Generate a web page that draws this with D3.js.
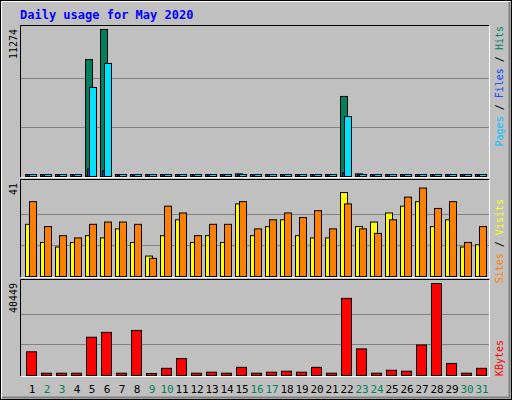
<!DOCTYPE html>
<html>
<head>
<meta charset="utf-8">
<script src="https://cdn.jsdelivr.net/npm/d3@7"></script>
<style>
  body { margin: 0; background: #fff; }
  text { font-family: "DejaVu Sans Mono", monospace; }
</style>
</head>
<body>
<div id="chart"></div>
<script>
// daily usage data, May 2020
const days = d3.range(1, 32);
const weekend = [2, 3, 9, 10, 16, 17, 23, 24, 30, 31];
const hits = [90, 80, 80, 80, 8970, 11274, 80, 80, 80, 80, 120, 80, 80, 80, 200, 80, 80, 80, 80, 80, 80, 6140, 200, 80, 150, 80, 150, 120, 100, 80, 80];
const files = [40, 40, 40, 40, 560, 450, 40, 40, 40, 40, 60, 40, 40, 40, 100, 40, 40, 40, 40, 40, 40, 300, 100, 40, 60, 40, 80, 90, 80, 40, 40];
const pages = [60, 60, 60, 60, 6830, 8670, 60, 60, 60, 60, 80, 60, 60, 60, 150, 60, 60, 60, 60, 60, 60, 4600, 120, 60, 80, 60, 100, 100, 90, 60, 60];
const visits = [23, 15, 13, 15, 18, 17, 21, 15, 9, 18, 25, 15, 18, 15, 32, 18, 22, 25, 18, 17, 17, 37, 22, 24, 28, 31, 33, 22, 25, 13, 14];
const sites = [33, 22, 18, 17, 23, 24, 24, 23, 8, 31, 28, 18, 23, 23, 33, 21, 25, 28, 26, 29, 21, 32, 21, 19, 25, 35, 39, 30, 33, 15, 22];
const kbytes = [10420, 1000, 1000, 1000, 16820, 18960, 1000, 19810, 600, 3160, 7430, 1000, 1450, 1000, 3590, 1000, 1450, 1880, 1450, 3590, 1000, 33900, 11700, 1000, 2300, 1880, 13400, 40449, 5290, 1000, 3160];

const svg = d3.select("#chart").append("svg")
    .attr("width", 512)
    .attr("height", 400);

// frame
svg.append("rect").attr("x", 0.5).attr("y", 0.5).attr("width", 511).attr("height", 399)
    .attr("fill", "#c0c0c0").attr("stroke", "#000");
svg.append("path").attr("d", "M1.5,398.5V1.5H510.5").attr("fill", "none").attr("stroke", "#fff").attr("stroke-width", 1);
svg.append("path").attr("d", "M2,397.5H509.5V2").attr("fill", "none").attr("stroke", "#808080").attr("stroke-width", 2);

svg.append("text").attr("x", 20).attr("y", 19)
    .attr("fill", "#0000ff").attr("font-size", 12).attr("font-weight", "bold")
    .text("Daily usage for May 2020");

// one 15px slot per day, bars start at the left of the slot
const x = d3.scaleBand().domain(days).range([25, 490]).paddingInner(0);

function panel(top, bottom, max, label) {
    const y = d3.scaleLinear().domain([0, max]).range([bottom, top + 4]);
    svg.append("rect").attr("x", 20.5).attr("y", top + 0.5).attr("width", 469).attr("height", bottom - top)
        .attr("fill", "#c0c0c0");
    [1 / 3, 2 / 3].forEach(f => {
        const gy = Math.round(y(max * f)) + 0.5;
        svg.append("line").attr("x1", 21).attr("x2", 489).attr("y1", gy).attr("y2", gy)
            .attr("stroke", "#808080");
    });
    svg.append("path").attr("d", `M20.5,${bottom + 1.5}V${top + 0.5}H489.5`).attr("fill", "none").attr("stroke", "#000");
    svg.append("path").attr("d", `M20.5,${bottom + 1.5}H489.5V${top + 0.5}`).attr("fill", "none").attr("stroke", "#fff");
    svg.append("text").attr("transform", `translate(17,${top + 4}) rotate(-90)`)
        .attr("text-anchor", "end").attr("font-size", 10).attr("fill", "#000").text(label);
    return y;
}

function bars(y, data, offset, w, color) {
    svg.append("g").selectAll("rect").data(days).join("rect")
        .attr("x", d => x(d) + offset + 0.5)
        .attr("y", (d, i) => Math.min(y(data[i]), y.range()[0] - 2) + 0.5)
        .attr("width", w)
        .attr("height", (d, i) => Math.max(y.range()[0] - y(data[i]), 2))
        .attr("fill", color)
        .attr("stroke", "#000");
}

// hits / files / pages
const y1 = panel(25, 176, 11274, "11274");
bars(y1, hits, 0, 7, "#00805c");
bars(y1, files, 2, 2, "#0040ff");
bars(y1, pages, 4, 7, "#00e0ff");

// visits / sites
const y2 = panel(179, 276, 41, "41");
bars(y2, visits, 0, 7, "#ffff00");
bars(y2, sites, 4, 7, "#ff8000");

// kbytes
const y3 = panel(279, 375, 40449, "40449");
bars(y3, kbytes, 1, 10, "#ff0000");

// day labels
svg.append("g").selectAll("text").data(days).join("text")
    .attr("x", d => x(d) + 7)
    .attr("y", 393)
    .attr("text-anchor", "middle")
    .attr("font-size", 11)
    .attr("fill", d => weekend.includes(d) ? "#00805c" : "#000")
    .text(d => d);

// right side legends, reading bottom to top
function legend(yTop, parts) {
    const t = svg.append("text").attr("transform", `translate(503,${yTop}) rotate(-90)`)
        .attr("font-size", 10).attr("text-anchor", "end");
    parts.forEach(p => t.append("tspan").attr("fill", p[1]).text(p[0]));
}
legend(26, [["Pages", "#00c0ff"], [" / ", "#000"], ["Files", "#0040ff"], [" / ", "#000"], ["Hits", "#00805c"]]);
legend(199, [["Sites", "#ff8000"], [" / ", "#000"], ["Visits", "#ffff00"]]);
legend(340, [["KBytes", "#ff0000"]]);
</script>
</body>
</html>
